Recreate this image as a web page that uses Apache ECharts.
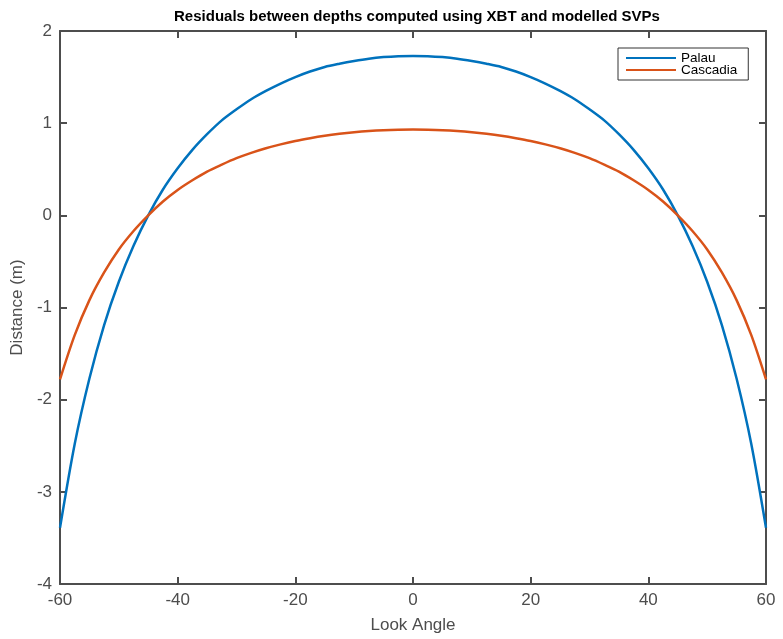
<!DOCTYPE html>
<html>
<head>
<meta charset="utf-8">
<script src="https://cdn.jsdelivr.net/npm/echarts@6/dist/echarts.min.js"></script>
<style>
  html, body { margin: 0; padding: 0; background: #fff; }
  #chart { width: 783px; height: 639px; }
</style>
</head>
<body>
<div id="chart"></div>
<script>
// Look angles (degrees), sampled every 2.5 degrees
const lookAngles = [-60, -57.5, -55, -52.5, -50, -47.5, -45, -42.5, -40, -37.5, -35, -32.5, -30, -27.5, -25,
                    -22.5, -20, -17.5, -15, -12.5, -10, -7.5, -5, -2.5, 0,
                    2.5, 5, 7.5, 10, 12.5, 15, 17.5, 20, 22.5, 25, 27.5, 30, 32.5, 35,
                    37.5, 40, 42.5, 45, 47.5, 50, 52.5, 55, 57.5, 60];
// Depth residuals (m), XBT vs modelled SVP — Palau
const palau = [-3.39, -2.48, -1.77, -1.19, -0.72, -0.33, 0.00, 0.28, 0.51, 0.71, 0.88, 1.03, 1.15, 1.26, 1.35,
               1.43, 1.50, 1.56, 1.61, 1.645, 1.675, 1.70, 1.717, 1.727, 1.73,
               1.727, 1.717, 1.70, 1.675, 1.645, 1.61, 1.56, 1.50, 1.43, 1.35, 1.26, 1.15, 1.03, 0.88,
               0.71, 0.51, 0.28, 0.00, -0.33, -0.72, -1.19, -1.77, -2.48, -3.39];
// Depth residuals (m), XBT vs modelled SVP — Cascadia
const cascadia = [-1.78, -1.30, -0.92, -0.62, -0.37, -0.17, 0.00, 0.15, 0.275, 0.38, 0.474, 0.55, 0.62, 0.678, 0.728,
                  0.77, 0.807, 0.837, 0.863, 0.884, 0.901, 0.914, 0.923, 0.928, 0.93,
                  0.928, 0.923, 0.914, 0.901, 0.884, 0.863, 0.837, 0.807, 0.77, 0.728, 0.678, 0.62, 0.55, 0.474,
                  0.38, 0.275, 0.15, 0.00, -0.17, -0.37, -0.62, -0.92, -1.30, -1.78];
const xTicks = { min: -60, max: 60, interval: 20 };
const yTicks = { min: -4, max: 2, interval: 1 };

const axisGrey = '#4d4d4d';
const font = 'Helvetica, "Liberation Sans", Arial, sans-serif';

function pairs(xs, ys) { return xs.map((x, i) => [x, ys[i]]); }

function boxAxis(base, pos, showLabels) {
  return Object.assign({
    type: 'value',
    position: pos,
    axisLine: { show: true, onZero: false, lineStyle: { color: axisGrey, width: 2 } },
    axisTick: { show: true, inside: true, length: 7, lineStyle: { color: axisGrey, width: 2 } },
    splitLine: { show: false },
    axisLabel: { show: showLabels, color: axisGrey, fontSize: 17, fontFamily: font, margin: 8 }
  }, base);
}

const chart = echarts.init(document.getElementById('chart'), null, { renderer: 'canvas' });
chart.setOption({
  animation: false,
  backgroundColor: '#fff',
  title: {
    text: 'Residuals between depths computed using XBT and modelled SVPs',
    left: 412, top: 4, textAlign: 'center',
    textStyle: { fontSize: 15, fontWeight: 'bold', color: '#000', fontFamily: font }
  },
  grid: { left: 60, right: 17, top: 31, bottom: 51, containLabel: false },
  legend: {
    orient: 'vertical',
    left: 618, top: 48,
    padding: [3, 11, 3, 8],
    backgroundColor: '#fff',
    borderColor: '#333',
    borderWidth: 1,
    itemWidth: 50, itemHeight: 2, itemGap: -2,
    icon: 'rect',
    textStyle: { fontSize: 13.5, color: '#000', fontFamily: font, lineHeight: 12 },
    data: ['Palau', 'Cascadia']
  },
  xAxis: [
    boxAxis(Object.assign({
      name: 'Look Angle', nameLocation: 'middle', nameGap: 33,
      nameTextStyle: { fontSize: 17, color: axisGrey, fontFamily: font }
    }, xTicks), 'bottom', true),
    boxAxis(Object.assign({}, xTicks), 'top', false)
  ],
  yAxis: [
    boxAxis(Object.assign({
      name: 'Distance (m)', nameLocation: 'middle', nameGap: 30,
      nameTextStyle: { fontSize: 17, color: axisGrey, fontFamily: font }
    }, yTicks), 'left', true),
    boxAxis(Object.assign({}, yTicks), 'right', false)
  ],
  series: [
    {
      name: 'Palau', type: 'line', data: pairs(lookAngles, palau),
      smooth: 0.3, showSymbol: false, symbol: 'none',
      lineStyle: { color: '#0072BD', width: 2.5 }, itemStyle: { color: '#0072BD' },
      xAxisIndex: 0, yAxisIndex: 0
    },
    {
      name: 'Cascadia', type: 'line', data: pairs(lookAngles, cascadia),
      smooth: 0.3, showSymbol: false, symbol: 'none',
      lineStyle: { color: '#D95319', width: 2.5 }, itemStyle: { color: '#D95319' },
      xAxisIndex: 0, yAxisIndex: 0
    }
  ]
});
</script>
</body>
</html>
